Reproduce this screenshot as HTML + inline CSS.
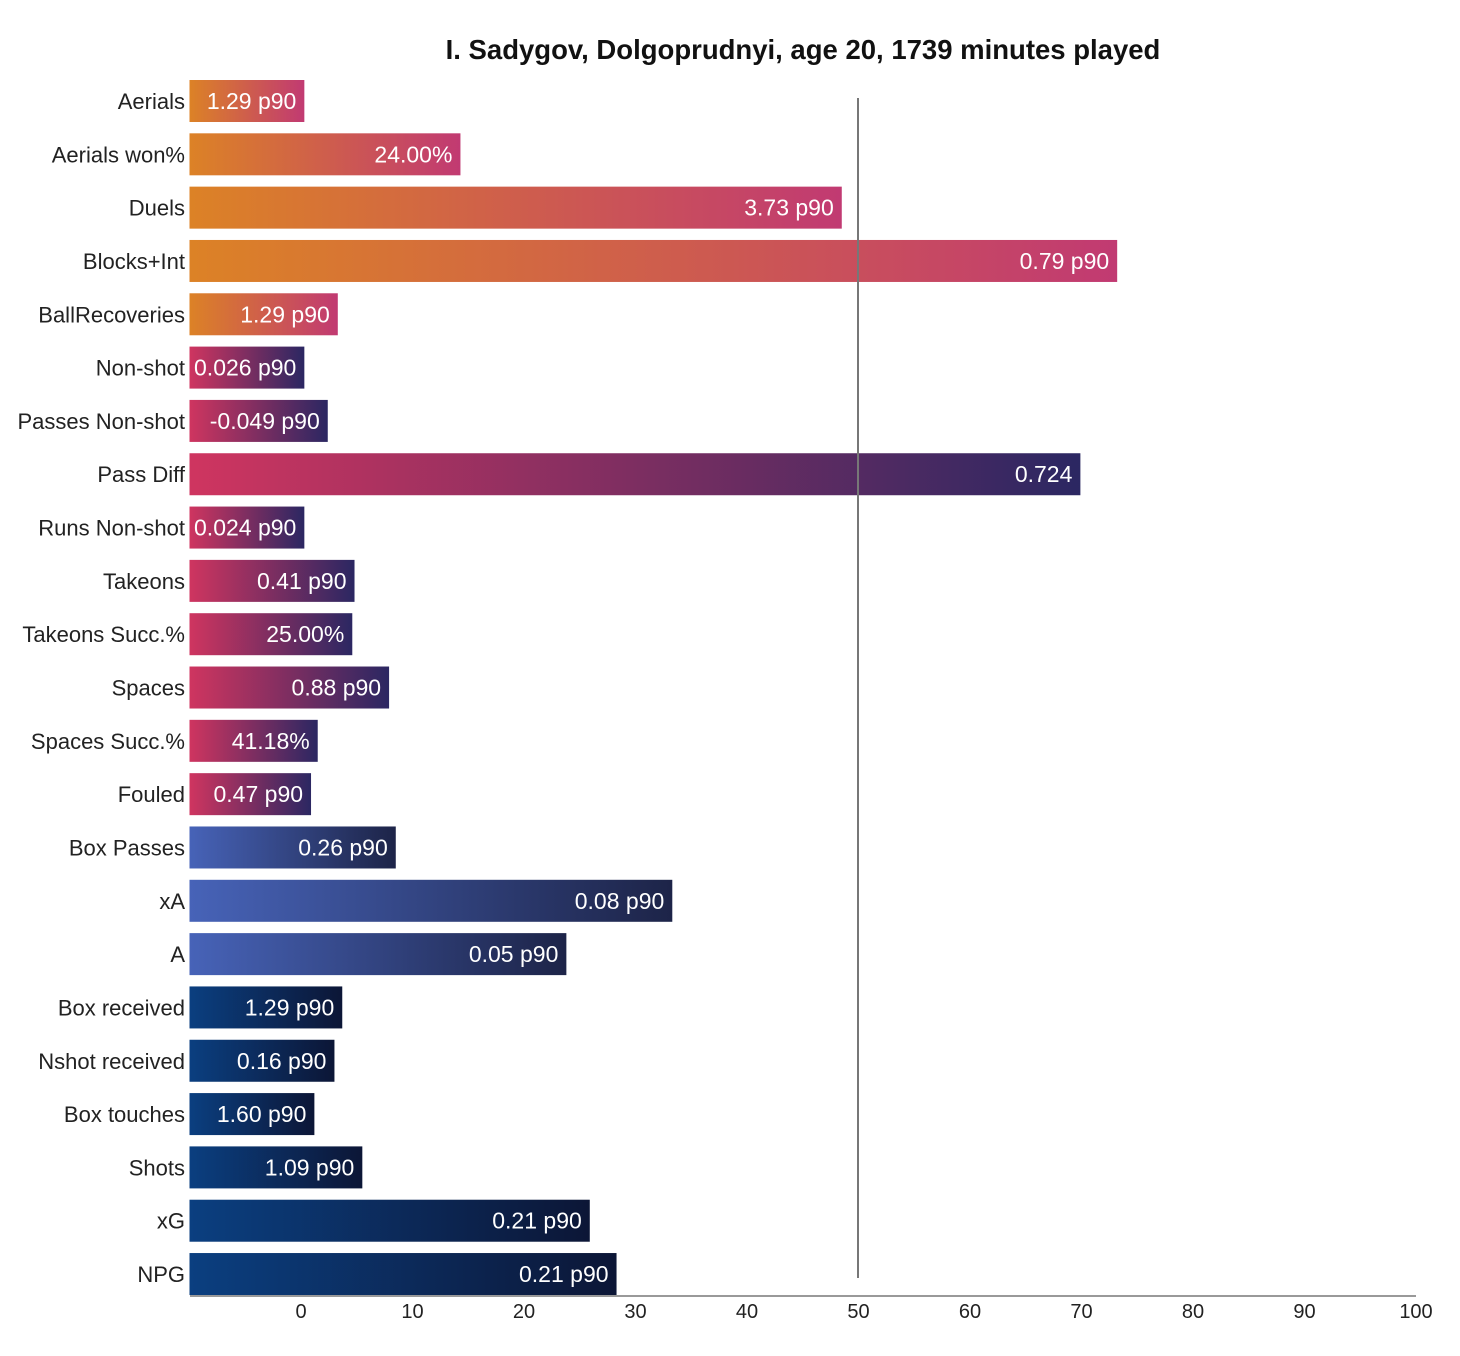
<!DOCTYPE html>
<html><head><meta charset="utf-8"><style>
html,body{margin:0;padding:0;background:#fff;}
svg{display:block;font-family:"Liberation Sans",sans-serif;}
</style></head><body>
<svg id="chart" width="1460" height="1356">
<defs>
<linearGradient id="g0" x1="0" x2="1" y1="0" y2="0"><stop offset="0" stop-color="#dc8226"/><stop offset="1" stop-color="#c13a72"/></linearGradient>
<linearGradient id="g1" x1="0" x2="1" y1="0" y2="0"><stop offset="0" stop-color="#cf3560"/><stop offset="1" stop-color="#2b2762"/></linearGradient>
<linearGradient id="g2" x1="0" x2="1" y1="0" y2="0"><stop offset="0" stop-color="#4763b8"/><stop offset="1" stop-color="#1d2448"/></linearGradient>
<linearGradient id="g3" x1="0" x2="1" y1="0" y2="0"><stop offset="0" stop-color="#0b3f80"/><stop offset="1" stop-color="#0c1636"/></linearGradient>
</defs>
<text x="803" y="59" text-anchor="middle" font-size="27.5" font-weight="bold" fill="#111">I. Sadygov, Dolgoprudnyi, age 20, 1739 minutes played</text>
<g id="bars"></g>
<line x1="858" y1="98" x2="858" y2="1278" stroke="#777" stroke-width="2"/>
<line x1="190" y1="1296" x2="1416" y2="1296" stroke="#999" stroke-width="2"/>
<g id="ticks"></g>
</svg>
<script>
const categories=["Aerials","Aerials won%","Duels","Blocks+Int","BallRecoveries","Non-shot","Passes Non-shot","Pass Diff","Runs Non-shot","Takeons","Takeons Succ.%","Spaces","Spaces Succ.%","Fouled","Box Passes","xA","A","Box received","Nshot received","Box touches","Shots","xG","NPG"];
const values=[0.3,14.3,48.5,73.2,3.3,0.3,2.4,69.9,0.3,4.8,4.6,7.9,1.5,0.9,8.5,33.3,23.8,3.7,3.0,1.2,5.5,25.9,28.3];
const valueLabels=["1.29 p90","24.00%","3.73 p90","0.79 p90","1.29 p90","0.026 p90","-0.049 p90","0.724","0.024 p90","0.41 p90","25.00%","0.88 p90","41.18%","0.47 p90","0.26 p90","0.08 p90","0.05 p90","1.29 p90","0.16 p90","1.60 p90","1.09 p90","0.21 p90","0.21 p90"];
const groups=[0,0,0,0,0,1,1,1,1,1,1,1,1,1,2,2,2,3,3,3,3,3,3];
const ticks=[0,10,20,30,40,50,60,70,80,90,100];
const xScale=v=>301+(v)*11.15;
const xMin=-10;
const yScale=i=>101+i*53.32;
const NS="http://www.w3.org/2000/svg";
const bars=document.getElementById('bars');
categories.forEach((c,i)=>{
  const y=yScale(i);
  const x0=xScale(xMin), x1=xScale(values[i]);
  const r=document.createElementNS(NS,'rect');
  r.setAttribute('x',x0);r.setAttribute('y',y-21);
  r.setAttribute('width',Math.max(0,x1-x0));r.setAttribute('height',42);
  r.setAttribute('fill','url(#g'+groups[i]+')');
  
  
  bars.appendChild(r);
  const t=document.createElementNS(NS,'text');
  t.setAttribute('x',185);t.setAttribute('y',y+8);
  t.setAttribute('text-anchor','end');t.setAttribute('font-size','22');t.setAttribute('fill','#222');
  t.textContent=c;
  
  
  bars.appendChild(t);
  const v=document.createElementNS(NS,'text');
  v.setAttribute('x',x1-8);v.setAttribute('y',y+8);
  v.setAttribute('text-anchor','end');v.setAttribute('font-size','23');v.setAttribute('fill','#fff');
  v.textContent=valueLabels[i];
  
  
  bars.appendChild(v);
});
const tg=document.getElementById('ticks');
ticks.forEach(tv=>{
  const t=document.createElementNS(NS,'text');
  t.setAttribute('x',xScale(tv));t.setAttribute('y',1318);
  t.setAttribute('text-anchor','middle');t.setAttribute('font-size','20');t.setAttribute('fill','#222');
  t.textContent=tv;
  
  
  tg.appendChild(t);
});
</script>
</body></html>
